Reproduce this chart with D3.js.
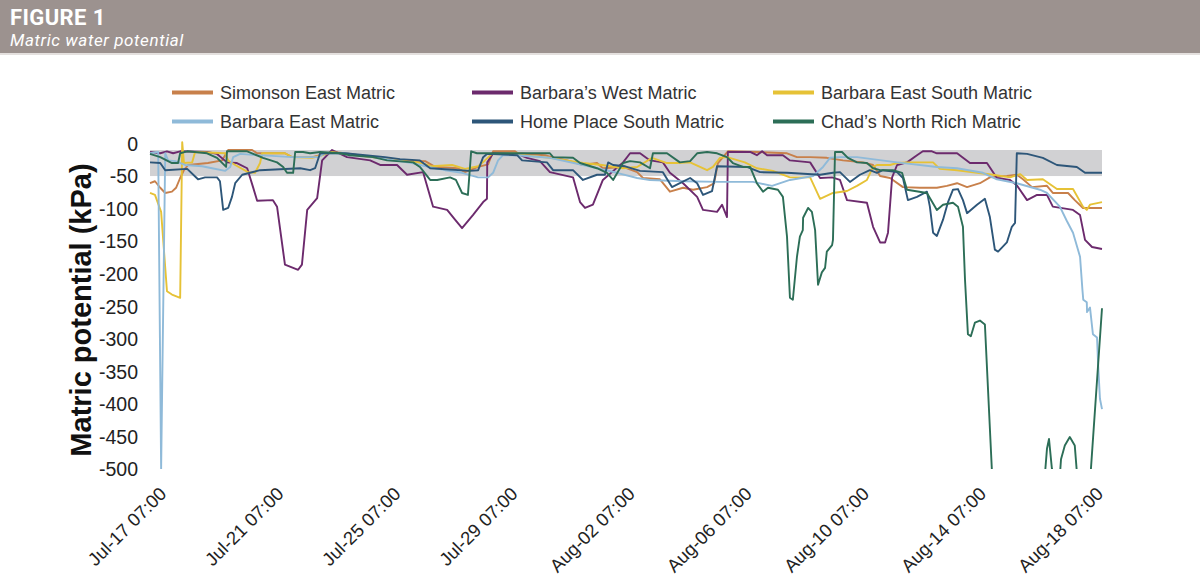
<!DOCTYPE html>
<html>
<head>
<meta charset="utf-8">
<script src="https://cdn.jsdelivr.net/npm/d3@7"></script>
<style>
  html, body { margin: 0; padding: 0; background: #ffffff; }
  svg { display: block; }
</style>
</head>
<body>
<svg id="chart" width="1200" height="579"></svg>
<script>
// ---------------- DATA ----------------
// time = days after Jul-17 07:00, value = matric potential (kPa)
const seriesNames = ["Simonson East Matric", "Barbara\u2019s West Matric", "Barbara East South Matric",
                     "Barbara East Matric", "Home Place South Matric", "Chad\u2019s North Rich Matric"];
const seriesColors = ["#c8804b", "#6c2a6d", "#e6c236", "#8fbad9", "#2d5679", "#2c6e57"];

const simonsonEast = [[-0.55,-61],[-0.38,-58],[-0.20,-68],[-0.03,-76],[0.20,-74],[0.34,-68],[0.48,-53],[0.61,-41],[0.75,-33],[1.43,-30],[1.91,-26],[2.12,-10],[2.94,-10],[3.11,-15],[4.06,-15],[4.30,-21],[4.99,-21],[5.26,-18],[5.67,-13],[6.11,-15],[7.04,-21],[8.16,-26],[8.85,-27],[9.19,-36],[9.97,-38],[10.21,-44],[10.66,-36],[11.0,-32],[11.17,-12],[11.92,-12],[12.02,-15],[12.94,-18],[13.18,-21],[13.70,-26],[14.24,-33],[14.72,-30],[14.92,-38],[15.61,-36],[16.09,-44],[16.29,-53],[16.87,-55],[17.21,-74],[17.66,-68],[18.0,-71],[18.48,-67],[18.72,-61],[18.85,-30],[19.19,-12],[20.18,-13],[21.21,-15],[21.55,-21],[22.0,-21],[22.57,-22],[23.12,-26],[23.80,-29],[24.15,-33],[24.39,-50],[24.73,-53],[25.17,-67],[25.75,-68],[26.33,-68],[26.67,-65],[27.02,-61],[27.36,-67],[27.80,-61],[28.14,-52],[28.72,-50],[29.06,-48],[29.27,-55],[29.58,-67],[30.09,-65],[30.29,-76],[30.81,-76],[31.04,-87],[31.32,-99],[31.97,-99]];

const barbarasWest = [[-0.55,-13],[-0.20,-15],[0.03,-12],[0.24,-15],[0.48,-12],[1.40,-13],[1.74,-16],[2.08,-29],[2.42,-30],[2.77,-38],[2.97,-67],[3.11,-88],[3.65,-87],[3.79,-97],[4.06,-186],[4.51,-194],[4.64,-186],[4.82,-102],[5.16,-84],[5.33,-26],[5.67,-10],[6.18,-21],[6.97,-26],[7.31,-33],[7.89,-33],[8.23,-48],[8.78,-44],[9.12,-97],[9.60,-102],[9.87,-117],[10.11,-130],[10.48,-110],[10.83,-90],[10.96,-85],[10.97,-29],[11.17,-15],[11.99,-16],[12.33,-22],[12.77,-27],[13.11,-44],[13.90,-52],[14.14,-90],[14.31,-99],[14.58,-94],[14.92,-56],[15.61,-29],[15.85,-15],[16.19,-15],[16.53,-26],[16.97,-29],[17.21,-45],[17.66,-61],[18.14,-82],[18.34,-102],[18.82,-105],[18.99,-94],[19.16,-113],[19.19,-13],[19.95,-13],[20.18,-18],[20.36,-12],[20.53,-18],[21.07,-18],[21.31,-26],[22.0,-29],[22.34,-53],[22.75,-52],[23.02,-56],[23.26,-87],[23.94,-91],[24.15,-128],[24.39,-152],[24.56,-152],[24.66,-137],[24.80,-52],[24.97,-33],[25.31,-29],[25.65,-18],[25.85,-12],[26.16,-12],[26.33,-15],[27.02,-15],[27.46,-30],[28.04,-30],[28.38,-53],[28.83,-56],[29.06,-64],[29.41,-87],[29.75,-79],[30.09,-79],[30.29,-97],[30.98,-102],[31.22,-110],[31.39,-148],[31.63,-159],[31.97,-162]];

const barbaraEastSouth = [[-0.55,-76],[-0.38,-79],[-0.17,-105],[0.03,-227],[0.20,-232],[0.48,-237],[0.55,2],[0.61,-30],[0.89,-29],[0.99,-13],[2.02,-15],[2.12,-26],[2.36,-33],[2.80,-44],[3.04,-45],[3.21,-30],[3.28,-15],[4.06,-15],[4.30,-21],[4.99,-22],[5.33,-18],[5.67,-13],[6.11,-16],[7.24,-22],[7.92,-26],[8.74,-30],[9.08,-35],[9.77,-33],[10.21,-39],[10.66,-35],[10.89,-26],[11.13,-16],[11.99,-15],[12.26,-18],[13.11,-22],[14.24,-30],[14.89,-33],[15.61,-38],[16.09,-36],[16.60,-22],[17.11,-30],[17.45,-30],[17.90,-29],[18.48,-41],[18.68,-36],[18.92,-22],[19.16,-21],[19.77,-29],[20.18,-38],[20.73,-42],[21.31,-52],[22.0,-52],[22.34,-85],[22.78,-76],[23.26,-73],[23.60,-65],[23.94,-56],[24.15,-36],[24.28,-33],[24.73,-33],[24.97,-30],[25.31,-29],[26.20,-29],[26.43,-39],[27.02,-41],[27.70,-45],[28.25,-48],[28.83,-52],[29.17,-47],[29.41,-56],[29.95,-55],[30.43,-70],[30.98,-70],[31.32,-97],[31.45,-102],[31.56,-94],[31.97,-90]];

const barbaraEast = [[-0.55,-15],[-0.27,-13],[-0.17,-500],[-0.03,-15],[0.07,-26],[0.31,-27],[0.65,-33],[1.23,-35],[1.57,-38],[2.02,-42],[2.19,-36],[2.29,-21],[2.53,-16],[3.11,-18],[3.62,-19],[4.30,-21],[5.19,-21],[5.43,-15],[6.11,-15],[7.24,-22],[8.40,-30],[8.95,-36],[9.53,-41],[10.11,-45],[10.66,-52],[11.0,-52],[11.17,-45],[11.34,-26],[11.51,-18],[11.99,-18],[13.11,-22],[14.24,-33],[15.40,-45],[16.09,-53],[16.53,-56],[17.66,-58],[18.92,-59],[20.05,-59],[20.70,-65],[21.31,-56],[22.10,-50],[22.44,-36],[22.68,-22],[23.02,-21],[23.60,-21],[24.97,-29],[26.33,-36],[27.02,-38],[27.90,-45],[28.38,-55],[29.06,-61],[29.85,-71],[30.09,-76],[30.53,-97],[30.77,-119],[30.98,-137],[31.22,-174],[31.30,-224],[31.33,-240],[31.45,-244],[31.46,-259],[31.56,-252],[31.66,-293],[31.80,-298],[31.84,-342],[31.90,-392],[31.97,-408]];

const homePlaceSouth = [[-0.55,-29],[-0.20,-30],[-0.03,-41],[0.72,-39],[1.09,-55],[1.33,-52],[1.74,-52],[1.84,-58],[1.95,-102],[2.12,-99],[2.25,-82],[2.36,-61],[2.60,-48],[3.21,-41],[4.58,-38],[4.92,-41],[5.09,-38],[5.26,-15],[6.11,-15],[6.80,-18],[7.48,-21],[7.99,-24],[8.67,-26],[9.02,-38],[10.38,-42],[10.66,-41],[10.83,-21],[10.96,-16],[11.99,-18],[12.16,-26],[13.01,-29],[13.22,-41],[13.90,-41],[14.24,-56],[14.72,-48],[14.99,-48],[15.10,-29],[15.27,-33],[15.68,-35],[16.19,-42],[16.97,-44],[17.28,-67],[17.55,-61],[17.90,-53],[18.14,-61],[18.34,-79],[18.65,-73],[18.82,-35],[19.84,-36],[20.29,-44],[21.21,-45],[22.34,-48],[22.78,-45],[23.02,-44],[23.36,-59],[23.70,-48],[24.04,-41],[24.28,-45],[24.49,-41],[24.97,-44],[25.17,-53],[25.34,-87],[25.65,-82],[25.99,-74],[26.09,-97],[26.20,-137],[26.33,-142],[26.54,-117],[26.71,-90],[26.88,-71],[27.05,-70],[27.22,-87],[27.36,-107],[27.70,-94],[27.97,-85],[28.14,-113],[28.31,-163],[28.42,-166],[28.72,-152],[28.89,-128],[29.0,-122],[29.06,-15],[29.41,-16],[29.95,-22],[30.43,-33],[31.11,-36],[31.39,-45],[31.97,-45]];

const chadsNorthRich = [[-0.55,-16],[-0.20,-21],[0.20,-30],[0.41,-30],[0.48,-15],[0.72,-12],[1.40,-15],[1.74,-22],[2.05,-36],[2.08,-12],[2.77,-12],[3.31,-22],[3.79,-29],[4.0,-36],[4.13,-45],[4.34,-45],[4.41,-13],[4.68,-13],[4.92,-15],[5.26,-13],[5.94,-15],[6.28,-18],[7.07,-21],[7.55,-26],[8.44,-29],[8.67,-36],[9.02,-56],[9.26,-56],[9.70,-52],[9.90,-56],[10.11,-76],[10.31,-79],[10.42,-12],[10.62,-15],[13.11,-15],[13.22,-21],[13.90,-22],[14.14,-30],[14.72,-38],[15.06,-45],[15.27,-56],[15.61,-30],[15.85,-27],[16.19,-29],[16.53,-38],[16.63,-15],[17.11,-15],[17.55,-29],[17.90,-27],[18.14,-15],[18.48,-13],[18.82,-15],[19.16,-21],[19.36,-30],[19.71,-36],[19.95,-36],[20.18,-61],[20.39,-74],[20.56,-68],[20.90,-71],[21.07,-82],[21.21,-143],[21.31,-237],[21.41,-240],[21.55,-174],[21.65,-143],[21.75,-133],[21.76,-114],[21.93,-99],[22.06,-105],[22.17,-133],[22.27,-217],[22.40,-198],[22.51,-191],[22.57,-166],[22.75,-156],[22.78,-148],[22.85,-13],[23.09,-13],[23.29,-22],[23.60,-29],[23.94,-30],[24.15,-38],[24.39,-41],[24.83,-41],[25.14,-45],[25.31,-71],[25.99,-76],[26.33,-102],[26.54,-94],[26.88,-91],[27.05,-97],[27.22,-128],[27.29,-209],[27.39,-293],[27.49,-296],[27.63,-275],[27.80,-272],[27.97,-278],[28.21,-503],[28.5,-560],[29.7,-560],[30.0,-520],[30.09,-469],[30.16,-454],[30.26,-500],[30.33,-520],[30.5,-530],[30.57,-485],[30.70,-464],[30.87,-451],[31.04,-464],[31.11,-504],[31.2,-540],[31.5,-540],[31.59,-501],[31.97,-253]];

const seriesData = [simonsonEast, barbarasWest, barbaraEastSouth, barbaraEast, homePlaceSouth, chadsNorthRich];

const yTicks = [0, -50, -100, -150, -200, -250, -300, -350, -400, -450, -500];
const xTickDays = [0, 4, 8, 12, 16, 20, 24, 28, 32];
const targetBand = [-50, -10];
const timeDomain = [-0.55, 31.97];

// ---------------- CHART ----------------
const BASE = Date.UTC(2023, 6, 17, 7, 0);
const toDate = d => new Date(BASE + d * 864e5);

const svg = d3.select("#chart");
const FONT = "'Liberation Sans', Arial, Helvetica, sans-serif";

// header
svg.append("rect").attr("x", 0).attr("y", 0).attr("width", 1200).attr("height", 53).attr("fill", "#9c928f");
svg.append("rect").attr("x", 0).attr("y", 53).attr("width", 1200).attr("height", 2).attr("fill", "#e4e0de");
svg.append("text").attr("x", 10).attr("y", 25)
  .attr("font-family", "Roboto, sans-serif").attr("font-weight", 700).attr("font-size", 22)
  .attr("letter-spacing", 0.4)
  .attr("fill", "#ffffff").text("FIGURE 1");
svg.append("text").attr("x", 10).attr("y", 45.5)
  .attr("font-family", "Roboto, sans-serif").attr("font-style", "italic").attr("font-size", 17)
  .attr("letter-spacing", 0.6)
  .attr("fill", "#ffffff").text("Matric water potential");

const x = d3.scaleUtc().domain(timeDomain.map(toDate)).range([150, 1102]);
const y = d3.scaleLinear().domain([-500, 0]).range([469, 143.5]);

// target band
svg.append("rect")
  .attr("x", x(toDate(timeDomain[0]))).attr("width", x(toDate(timeDomain[1])) - x(toDate(timeDomain[0])))
  .attr("y", y(targetBand[1])).attr("height", y(targetBand[0]) - y(targetBand[1]))
  .attr("fill", "#d1d1d3");

// y axis
const yAxis = svg.append("g").attr("transform", "translate(138,0)")
  .call(d3.axisLeft(y).tickValues(yTicks).tickSize(0).tickPadding(0).tickFormat(d => String(d)));
yAxis.select(".domain").remove();
yAxis.selectAll("text").attr("font-family", FONT).attr("font-size", 19.5).attr("fill", "#222").attr("dy", "0.35em");

// x axis
const xAxis = svg.append("g").attr("transform", "translate(0,469)")
  .call(d3.axisBottom(x).tickValues(xTickDays.map(toDate)).tickSize(0).tickFormat(d3.utcFormat("%b-%d %H:%M")));
xAxis.select(".domain").remove();
xAxis.selectAll("text")
  .attr("font-family", FONT).attr("font-size", 18.5).attr("fill", "#222")
  .attr("x", 0).attr("y", 0).attr("dy", 0)
  .attr("text-anchor", "end")
  .attr("transform", "translate(1,26) rotate(-45)");

// axis title
svg.append("text")
  .attr("transform", "translate(91,310) rotate(-90)")
  .attr("text-anchor", "middle")
  .attr("font-family", FONT).attr("font-weight", 700).attr("font-size", 29)
  .attr("fill", "#111").text("Matric potential (kPa)");

// clip
svg.append("clipPath").attr("id", "plotclip").append("rect")
  .attr("x", 140).attr("y", 100).attr("width", 980).attr("height", 369);

const line = d3.line().x(d => x(toDate(d[0]))).y(d => y(d[1]));
svg.append("g").attr("clip-path", "url(#plotclip)")
  .selectAll("path").data(seriesData).join("path")
  .attr("d", line)
  .attr("fill", "none")
  .attr("stroke", (d, i) => seriesColors[i])
  .attr("stroke-width", 1.9)
  .attr("stroke-linejoin", "round");

// legend
const legCols = [172, 472, 773];
const legRows = [92.5, 121.5];
const leg = svg.append("g").selectAll("g").data(seriesNames).join("g")
  .attr("transform", (d, i) => `translate(${legCols[i % 3]},${legRows[Math.floor(i / 3)]})`);
leg.append("line").attr("x1", 0).attr("x2", 41).attr("y1", 0).attr("y2", 0)
  .attr("stroke", (d, i) => seriesColors[i]).attr("stroke-width", 4);
leg.append("text").attr("x", 48).attr("y", 6.5)
  .attr("font-family", FONT).attr("font-size", 18).attr("fill", "#333").text(d => d);
</script>
</body>
</html>
